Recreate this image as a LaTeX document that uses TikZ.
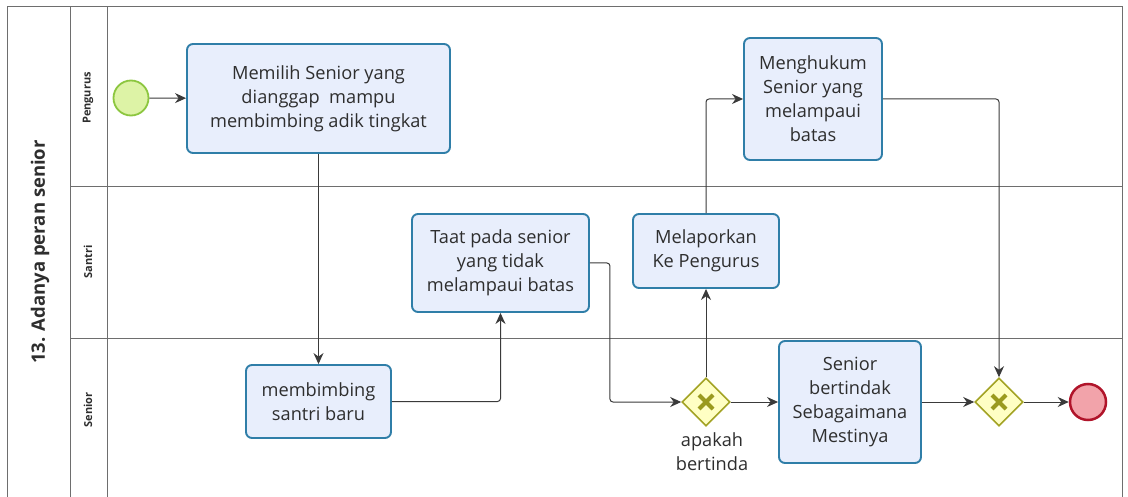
\documentclass[tikz,border=0pt]{standalone}
\usepackage{fontspec}
\setmainfont{Open Sans}
\usetikzlibrary{arrows.meta,shapes.geometric}
\definecolor{taskfill}{HTML}{E8EEFC}
\definecolor{taskdraw}{HTML}{2F7EA8}
\definecolor{gwfill}{HTML}{FFFFC4}
\definecolor{gwdraw}{HTML}{A3A325}
\definecolor{gwx}{HTML}{9A9A1E}
\definecolor{endfill}{HTML}{F2A3AA}
\definecolor{enddraw}{HTML}{B0142A}
\definecolor{startfill}{HTML}{DDF3A6}
\definecolor{startdraw}{HTML}{8CC63F}
\definecolor{frame}{HTML}{6E6E6E}
\definecolor{flowc}{HTML}{3A3A3A}
\definecolor{txt}{HTML}{2E2E2E}
\begin{document}
\begin{tikzpicture}[x=1pt,y=-1pt,
  task/.style={draw=taskdraw, fill=taskfill, rounded corners=6pt, line width=1.9pt,
    align=center, font=\fontsize{18.2}{24}\selectfont, text=txt, inner sep=0pt},
  gateway/.style={diamond, aspect=1, draw=gwdraw, fill=gwfill, line width=1.6pt,
    minimum width=48pt, minimum height=48pt, inner sep=0pt},
  gwmark/.style={gwx, line width=4pt},
  flow/.style={draw=flowc, line width=1pt, rounded corners=3pt, -{Stealth[length=11pt,width=10pt]}},
  lanelbl/.style={rotate=90, font=\fontsize{11}{13}\selectfont\bfseries, text=txt},
  framel/.style={draw=frame, line width=1pt}
]
\useasboundingbox (0,0) rectangle (1128,497);
% frame
\draw[framel] (7,497) -- (7,7) -- (1122,7) -- (1122,497);
\draw[framel] (70,7) -- (70,497);
\draw[framel] (107,7) -- (107,497);
\draw[framel] (70,187) -- (1122,187);
\draw[framel] (70,338) -- (1122,338);
% labels
\node[rotate=90, font=\fontsize{18.5}{22}\selectfont\bfseries, text=txt] (title) at (40,252) {13. Adanya peran senior};
\node[lanelbl] (lp) at (88,98) {Pengurus};
\node[lanelbl] (ls) at (88,262) {Santri};
\node[lanelbl] (lsn) at (88,410) {Senior};
% events
\node[circle, draw=startdraw, fill=startfill, line width=1.8pt, minimum size=35pt, inner sep=0pt] (start) at (131,98) {};
\node[circle, draw=enddraw, fill=endfill, line width=2.5pt, minimum size=36pt, inner sep=0pt] (end) at (1088,402) {};
% tasks
\node[task, minimum width=263pt, minimum height=109pt] (t1) at (318.5,98.5) {Memilih Senior yang\\dianggap\ \ mampu\\membimbing adik tingkat};
\node[task, minimum width=138pt, minimum height=122pt] (hk) at (813,99) {Menghukum\\Senior yang\\melampaui\\batas};
\node[task, minimum width=177pt, minimum height=98pt] (taat) at (500.5,263) {Taat pada senior\\yang tidak\\melampaui batas};
\node[task, minimum width=146pt, minimum height=74pt] (lap) at (706,251) {Melaporkan\\Ke Pengurus};
\node[task, minimum width=145pt, minimum height=73pt] (mb) at (318.5,401.5) {membimbing\\santri baru};
\node[task, minimum width=142pt, minimum height=122pt] (sb) at (850,402) {Senior\\bertindak\\Sebagaimana\\Mestinya};
% gateways
\node[gateway] (g1) at (706,402) {};
\node[gateway] (g2) at (999,402) {};
\foreach \g in {g1,g2}{
  \draw[gwmark] ([shift={(-7,-7)}]\g.center) -- ([shift={(7,7)}]\g.center);
  \draw[gwmark] ([shift={(-7,7)}]\g.center) -- ([shift={(7,-7)}]\g.center);
}
\node[font=\fontsize{18.2}{24}\selectfont, text=txt, align=center] (glbl) at (712,452) {apakah\\bertinda};
% flows
\draw[flow] (start) -- (t1);
\draw[flow] (t1.south) -- (mb.north);
\draw[flow] (mb.east) -| (taat.south);
\draw[flow] (taat.east) -- ++(20,0) |- (g1.west);
\draw[flow] (g1.north) -- (lap.south);
\draw[flow] (lap.north) |- (hk.west);
\draw[flow] (g1.east) -- (sb.west);
\draw[flow] (sb.east) -- (g2.west);
\draw[flow] (hk.east) -| (g2.north);
\draw[flow] (g2.east) -- (end.west);
\end{tikzpicture}
\end{document}
